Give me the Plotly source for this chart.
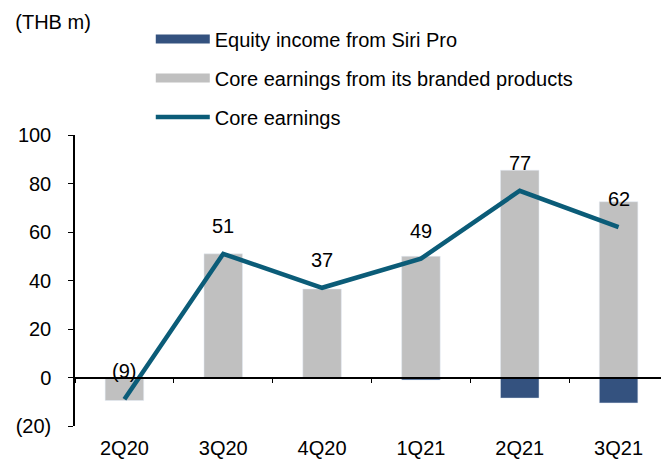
import plotly.graph_objects as go

# Data (THB m)
quarters = ["2Q20", "3Q20", "4Q20", "1Q21", "2Q21", "3Q21"]
equity_income = [0, 0, 0, -1, -8.5, -10.5]
branded_earnings = [-9.5, 51, 36.5, 50, 85.5, 72.5]
core_earnings = [-9, 51, 37, 49, 77, 62]

y_ticks = [-20, 0, 20, 40, 60, 80, 100]
y_tick_labels = ["(20)", "0", "20", "40", "60", "80", "100"]

BLUE = "#34527f"
GREY = "#c0c0c0"
TEAL = "#0b5c78"
FONT = "Liberation Sans, Arial, sans-serif"


def fmt(v):
    return f"({abs(v):.0f})" if v < 0 else f"{v:.0f}"


fig = go.Figure()

fig.add_trace(go.Bar(x=quarters, y=equity_income, marker_color=BLUE,
                     width=0.39, showlegend=False))
fig.add_trace(go.Bar(x=quarters, y=branded_earnings, marker_color=GREY,
                     width=0.39, showlegend=False))
fig.add_trace(go.Scatter(x=quarters, y=core_earnings, mode="lines",
                         line=dict(color=TEAL, width=4.5), showlegend=False))

# legend entries (wide swatches like the original)
for name, col, w, grp in [("Equity income from Siri Pro", BLUE, 9, "a"),
                          ("Core earnings from its branded products", GREY, 9, "b"),
                          ("Core earnings", TEAL, 4.5, "c")]:
    fig.add_trace(go.Scatter(x=[None], y=[None], mode="lines", name=name,
                             legendgroup=grp, line=dict(color=col, width=w)))

for q, v in zip(quarters, core_earnings):
    fig.add_annotation(x=q, y=v, text=fmt(v), showarrow=False, yshift=28,
                       font=dict(size=20, color="black", family=FONT))

# page body adds ~8px around the figure, so the figure is a bit smaller
fig.update_layout(
    width=661, height=456,
    margin=dict(l=67, r=1, t=127, b=38, autoexpand=False),
    barmode="relative",
    plot_bgcolor="white", paper_bgcolor="white",
    font=dict(family=FONT, size=20, color="black"),
    title=dict(text="(THB m)", x=0.011, y=0.985, xref="container",
               yref="container", xanchor="left", yanchor="top",
               font=dict(size=20, color="black", family=FONT)),
    legend=dict(x=0.216, y=0.975, xref="container", yref="container",
                xanchor="left", yanchor="top",
                itemwidth=54, tracegroupgap=10, font=dict(size=20),
                bgcolor="rgba(0,0,0,0)"),
    xaxis=dict(showline=False, ticks="", showgrid=False, zeroline=False,
               tickfont=dict(size=20), ticklabelstandoff=8),
    xaxis2=dict(overlaying="x", anchor="free", position=1/6, matches="x",
                showline=True, linecolor="black", linewidth=1.5,
                ticks="outside", tickson="boundaries", ticklen=5,
                tickcolor="black", showticklabels=False, showgrid=False),
    yaxis=dict(range=[-20, 100], tickvals=y_ticks, ticktext=y_tick_labels,
               showline=True, linecolor="black", linewidth=1.5,
               ticks="outside", ticklen=5, tickcolor="black",
               showgrid=False, zeroline=False, tickfont=dict(size=20),
               ticklabelstandoff=13),
)

# dummy trace so the zero-line axis gets drawn
fig.add_trace(go.Scatter(x=quarters, y=[None] * len(quarters), xaxis="x2",
                         showlegend=False, hoverinfo="skip"))

fig.write_html("out.html")
